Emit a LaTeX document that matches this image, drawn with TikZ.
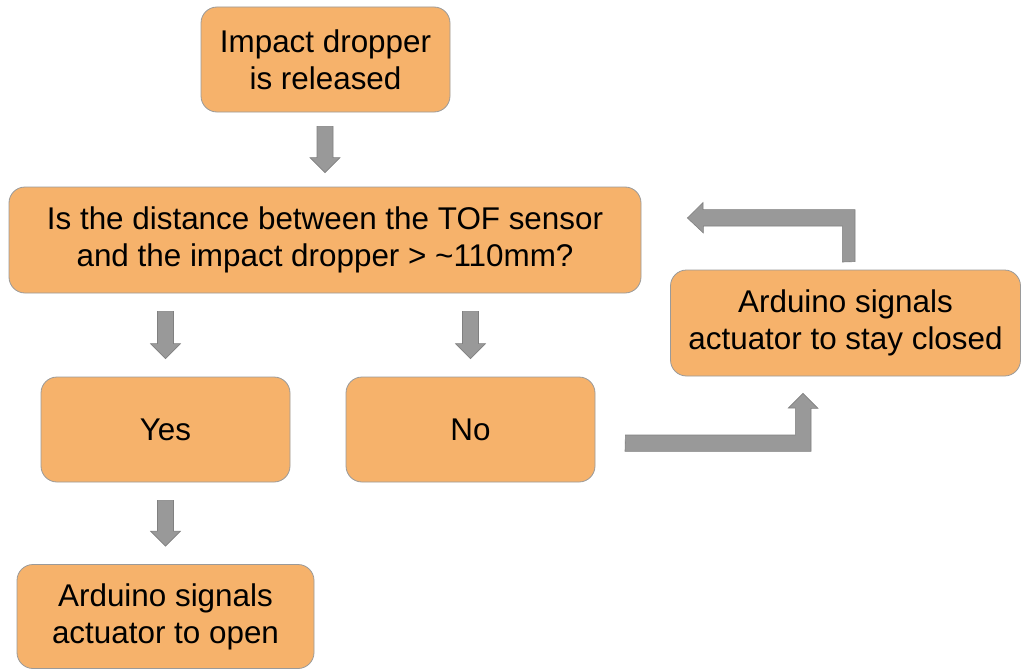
\documentclass[tikz,border=0pt]{standalone}
\usepackage{fontspec}
\setmainfont{Liberation Sans}
\usetikzlibrary{calc}
\definecolor{boxfill}{HTML}{F6B26B}
\definecolor{boxline}{HTML}{9A9A9A}
\definecolor{arrfill}{HTML}{999999}
\definecolor{arrline}{HTML}{808080}
% straight downward block arrow from node #1 to node #2, gap #3 (pt) at both ends
\newcommand\blockdown[3]{%
  \path let \p1=($(#1.south)$), \p2=($(#2.north)$) in
    [blockarrow] (\x2-8pt,\y1-#3pt) -- (\x2+8pt,\y1-#3pt) -- (\x2+8pt,\y2+#3pt+15pt)
    -- (\x2+15pt,\y2+#3pt+15pt) -- (\x2,\y2+#3pt) -- (\x2-15pt,\y2+#3pt+15pt)
    -- (\x2-8pt,\y2+#3pt+15pt) -- cycle;}
\begin{document}
\begin{tikzpicture}[x=1pt,y=-1pt,
  box/.style={draw=boxline, line width=0.8pt, fill=boxfill, rounded corners=16pt,
    align=center, font=\fontsize{31.4}{37}\selectfont, inner sep=0pt},
  blockarrow/.style={fill=arrfill, draw=arrline, line width=0.6pt, line join=miter}]
\useasboundingbox (0,0) rectangle (1022,669);
\node[box, minimum width=249pt, minimum height=105pt] (start) at (325.5,59.5) {Impact dropper\\is released};
\node[box, minimum width=632pt, minimum height=106pt] (question) at (325,240) {Is the distance between the TOF sensor\\and the impact dropper > \char`\~110mm?};
\node[box, minimum width=249pt, minimum height=105pt] (yes) at (165.5,429.5) {Yes};
\node[box, minimum width=249pt, minimum height=105pt] (no) at (470.5,429.5) {No};
\node[box, minimum width=350pt, minimum height=106pt] (closed) at (845.5,323) {Arduino signals\\actuator to stay closed};
\node[box, minimum width=297pt, minimum height=104pt] (open) at (165.5,616.5) {Arduino signals\\actuator to open};
\blockdown{start}{question}{14}
\blockdown{question}{yes}{18}
\blockdown{question}{no}{18}
\blockdown{yes}{open}{18}
% No -> closed
\path [blockarrow] ($(no.east)+(30,5.5)$) -- ++(170,0) -- ++(0,-27) -- ++(-7,0)
  -- ($(closed.south)+(-42.5,17)$) -- ++(15,15) -- ++(-7,0) -- ++(0,43) -- ++(-186,0) -- cycle;
% closed -> question
\path [blockarrow] ($(closed.north)+(9.5,-8)$) -- ++(0,-52) -- ++(-152,0) -- ++(0,-7)
  -- ($(question.east)+(46,-22)$) -- ++(16,15) -- ++(0,-7) -- ++(139,0) -- ++(0,36) -- cycle;
\end{tikzpicture}
\end{document}
